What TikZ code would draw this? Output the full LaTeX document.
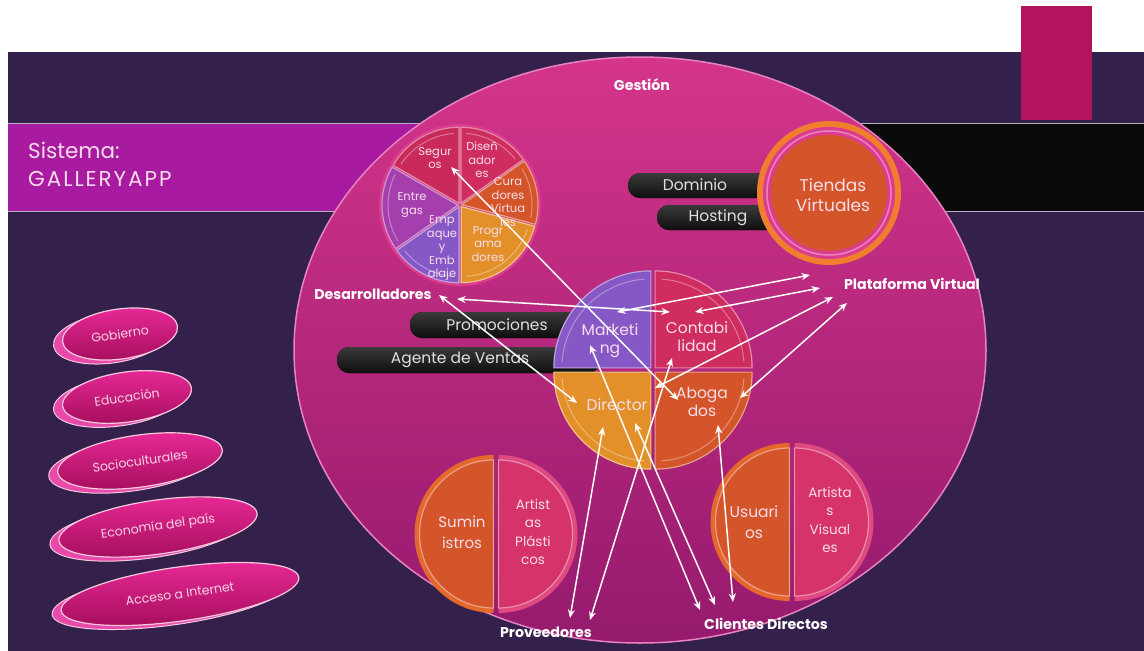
\documentclass[tikz,border=0pt]{standalone}
\usepackage{fontspec}
\setmainfont{Poppins}
\usetikzlibrary{arrows.meta,shapes.geometric}

\definecolor{bgdark}{HTML}{33204B}
\definecolor{bgmid}{HTML}{54295F}
\definecolor{bandpurple}{HTML}{A81BA0}
\definecolor{bandedge}{HTML}{B8AFC2}
\definecolor{tabmagenta}{HTML}{B3135F}
\definecolor{gesttop}{HTML}{D4358A}
\definecolor{gestbot}{HTML}{951A6E}
\definecolor{gestrim}{HTML}{E783BE}
\definecolor{txtlight}{HTML}{F7DDEB}
\definecolor{cCrimson}{HTML}{C92A5B}
\definecolor{cCrimsonB}{HTML}{CF2D5F}
\definecolor{cRedOrange}{HTML}{D4552A}
\definecolor{cGold}{HTML}{E3902A}
\definecolor{cViolet}{HTML}{8658C6}
\definecolor{cPlum}{HTML}{A53FAD}
\definecolor{cRose}{HTML}{D5336A}
\definecolor{ringorange}{HTML}{F07E2E}
\definecolor{ringpink}{HTML}{DB3C8E}
\definecolor{rimorange}{HTML}{E6672C}
\definecolor{rimrose}{HTML}{E04A80}
\definecolor{pilltop}{HTML}{3A3A3A}
\definecolor{pillbot}{HTML}{0E0E0E}
\definecolor{cDiscFront}{HTML}{A30D5B}
\definecolor{cDiscTop}{HTML}{EA2A98}
\definecolor{cDiscBack}{HTML}{E84AAA}
\definecolor{cDiscRim}{HTML}{F6C9DF}
\definecolor{cDiscText}{HTML}{F5D3E5}

\begin{document}
\begin{tikzpicture}[x=1pt,y=-1pt,
  link/.style={draw=white, line width=1.5pt, >={Stealth[length=8.5pt,width=7pt]}, <->},
  tag/.style={font=\bfseries\fontsize{14.2}{16}\selectfont, text=white, inner sep=0pt},
  pietext/.style={align=center, text=txtlight, inner sep=0pt, font=\fontsize{11.5}{13.5}\selectfont},
  bigtext/.style={align=center, text=txtlight, inner sep=0pt, font=\fontsize{15.5}{18}\selectfont},
  halftext/.style={align=center, text=txtlight, inner sep=0pt, font=\fontsize{13.5}{18.5}\selectfont},
  pilltext/.style={text=white!88!black, inner sep=0pt, font=\fontsize{15.5}{17}\selectfont},
  pill/.style={top color=pilltop, bottom color=pillbot, rounded corners=12pt},
  discrear/.style={ellipse, fill=cDiscBack, draw=cDiscRim, line width=1pt, inner sep=0pt},
  discface/.style={ellipse, top color=cDiscTop, bottom color=cDiscFront, draw=cDiscRim, line width=1.2pt, inner sep=0pt},
  disctext/.style={text=cDiscText, inner sep=0pt, font=\fontsize{12.5}{14}\selectfont},
  wedge/.style={fill=#1, draw=#1!55!white, line width=1.2pt},
  halfrim/.style={fill=#1}
]
\useasboundingbox (0,0) rectangle (1144,651);
\fill[white] (0,0) rectangle (1144,651);

% slide background
\shade[left color=bgdark, middle color=bgmid, right color=bgdark] (8,52) rectangle (1144,651);

% tab at the top right
\fill[tabmagenta] (1021,6) rectangle (1092,120);

% title band and black band
\fill[bandpurple] (8,123) rectangle (660,211);
\fill[black!96] (660,123) rectangle (1144,211);
\draw[bandedge, line width=0.8pt] (8,123) -- (1144,123) (8,211) -- (1144,211);
\node[anchor=west, align=left, text=txtlight, inner sep=0pt,
      font=\fontsize{21.5}{28}\selectfont] (titulo) at (28,164)
  {Sistema:\\{\addfontfeatures{LetterSpace=9}GALLERYAPP}};

% main management circle
\draw[top color=gesttop, bottom color=gestbot, draw=gestrim, line width=1.5pt]
  (640,350) ellipse [x radius=346, y radius=293];
\node[tag] (gestion) at (642,85) {Gestión};

% six-part wheel of developers
\begin{scope}[shift={(460,205)}, y=1pt]
  \fill[ringpink] (0,0) circle (81);
  \foreach \a/\b/\c in {90/150/cCrimson, 150/215/cPlum, 215/270/cViolet,
                        270/345/cGold, 345/395/cRedOrange, 35/90/cCrimsonB} {
    \filldraw[wedge=\c, shift={({(\a+\b)/2}:2)}]
      (0,0) -- (\a:76) arc[start angle=\a, end angle=\b, radius=76] -- cycle;
    \draw[white, opacity=0.35, line width=1pt, shift={({(\a+\b)/2}:2)}]
      (\a+4:70) arc[start angle=\a+4, end angle=\b-4, radius=70];
  }
\end{scope}
\node[pietext] (seguros) at (435,158) {Segur\\os};
\node[pietext] (disenadores) at (482,160) {Diseñ\\ador\\es};
\node[pietext] (curadores) at (508,202) {Cura\\dores\\Virtua\\les};
\node[pietext] (programadores) at (488,244) {Progr\\ama\\dores};
\node[pietext] (empaque) at (442,248) {Emp\\aque\\y\\Emb\\alaje};
\node[pietext] (entregas) at (412,205) {Entre\\gas};

% virtual stores with their services
\fill[pill] (628,173) rectangle (785,198);
\node[pilltext] (dominio) at (695,185) {Dominio};
\fill[pill] (657,205) rectangle (790,230);
\node[pilltext] (hosting) at (718,218) {Hosting};
\fill[ringorange] (829,193) circle (72);
\fill[ringpink] (829,193) circle (66);
\draw[gestrim, line width=1.5pt] (829,193) circle (62);
\fill[cRedOrange] (829,193) circle (58);
\node[align=center, text=txtlight, inner sep=0pt, font=\fontsize{17}{20}\selectfont]
  (tiendas) at (833,195) {Tiendas\\Virtuales};

% sales tags
\fill[pill] (410,312) rectangle (610,338);
\node[pilltext] (promociones) at (497,325) {Promociones};
\fill[pill] (337,347) rectangle (600,373);
\node[pilltext] (agente) at (460,360) {Agente de Ventas};

% four-part management wheel
\begin{scope}[shift={(653,370)}, y=1pt]
  \foreach \a/\b/\c in {90/180/cViolet, 0/90/cCrimsonB, 180/270/cGold, 270/360/cRedOrange} {
    \filldraw[wedge=\c, shift={({(\a+\b)/2}:3)}]
      (0,0) -- (\a:97) arc[start angle=\a, end angle=\b, radius=97] -- cycle;
    \draw[white, opacity=0.35, line width=1pt, shift={({(\a+\b)/2}:3)}]
      (\a+4:89) arc[start angle=\a+4, end angle=\b-4, radius=89];
  }
\end{scope}
\node[bigtext] (marketing) at (610,341) {Marketi\\ng};
\node[bigtext] (contabilidad) at (697,337) {Contabi\\lidad};
\node[bigtext] (director) at (617,405) {Director};
\node[bigtext] (abogados) at (702,402) {Aboga\\dos};

% suppliers wheel
\begin{scope}[shift={(496,534)}, y=1pt]
  \fill[halfrim=rimorange, shift={(-2.5,0)}] (90:79) arc[start angle=90, end angle=270, radius=79] -- cycle;
  \fill[halfrim=rimrose, shift={(2.5,0)}] (-90:79) arc[start angle=-90, end angle=90, radius=79] -- cycle;
  \filldraw[wedge=cRedOrange, shift={(-2.5,0)}] (90:74) arc[start angle=90, end angle=270, radius=74] -- cycle;
  \filldraw[wedge=cRose, shift={(2.5,0)}] (-90:74) arc[start angle=-90, end angle=90, radius=74] -- cycle;
\end{scope}
\node[align=center, text=txtlight, inner sep=0pt, font=\fontsize{15}{21}\selectfont]
  (suministros) at (462,532) {Sumin\\istros};
\node[halftext] (plasticos) at (533,532) {Artist\\as\\Plásti\\cos};

% direct clients wheel
\begin{scope}[shift={(792,522)}, y=1pt]
  \fill[halfrim=rimorange, shift={(-2.5,0)}] (90:79) arc[start angle=90, end angle=270, radius=79] -- cycle;
  \fill[halfrim=rimrose, shift={(2.5,0)}] (-90:79) arc[start angle=-90, end angle=90, radius=79] -- cycle;
  \filldraw[wedge=cRedOrange, shift={(-2.5,0)}] (90:74) arc[start angle=90, end angle=270, radius=74] -- cycle;
  \filldraw[wedge=cRose, shift={(2.5,0)}] (-90:74) arc[start angle=-90, end angle=90, radius=74] -- cycle;
\end{scope}
\node[align=center, text=txtlight, inner sep=0pt, font=\fontsize{15.5}{21}\selectfont]
  (usuarios) at (754,522) {Usuari\\os};
\node[halftext] (visuales) at (830,520) {Artista\\s\\Visual\\es};

% environment discs
\foreach \n/\x/\y/\w/\h/\t in {gobierno/120/334/116/50/Gobierno,
    educacion/127/397/130/50/Educación,
    sociocult/140/461/166/52/Socioculturales,
    economia/158/527/200/54/Economía del país,
    acceso/180/594/240/54/Acceso a Internet} {
  \node[discrear, minimum width=\w pt, minimum height=\h pt, rotate=8] at (\x-9,\y+4) {};
  \node[discface, minimum width=\w pt, minimum height=\h pt, rotate=8] (\n) at (\x,\y) {};
  \node[disctext, rotate=8] at (\n.center) {\t};
}

% outside actors
\node[tag] (desarrolladores) at (373,294) {Desarrolladores};
\node[tag] (plataforma) at (912,284) {Plataforma Virtual};
\node[tag] (proveedores) at (546,632) {Proveedores};
\node[tag] (clientes) at (766,624) {Clientes Directos};

% arrow end points
\coordinate (dev-e)  at (457,299);
\coordinate (dev-se) at (439,295);
\coordinate (cont-w) at (670,312);
\coordinate (cont-n) at (695,312);
\coordinate (cont-s) at (672,358);
\coordinate (mkt-n)  at (617,312);
\coordinate (mkt-c)  at (590,345);
\coordinate (dir-w)  at (577,403);
\coordinate (dir-s)  at (603,427);
\coordinate (dir-se) at (635,423);
\coordinate (abo-nw) at (655,388);
\coordinate (abo-w)  at (678,400);
\coordinate (abo-e)  at (740,398);
\coordinate (abo-s)  at (718,425);
\coordinate (seg-c)  at (451,167);
\coordinate (tv-s)   at (810,275);
\coordinate (pv-1)   at (820,288);
\coordinate (pv-2)   at (833,297);
\coordinate (pv-3)   at (847,303);
\coordinate (prov-1) at (570,618);
\coordinate (prov-2) at (590,620);
\coordinate (cli-1)  at (700,610);
\coordinate (cli-2)  at (715,605);
\coordinate (cli-3)  at (733,602);

% relations
\draw[link] (dev-e) -- (cont-w);
\draw[link] (mkt-n) -- (tv-s);
\draw[link] (cont-n) -- (pv-1);
\draw[link] (abo-nw) -- (pv-2);
\draw[link] (abo-e) -- (pv-3);
\draw[link] (seg-c) -- (abo-w);
\draw[link] (dev-se) -- (dir-w);
\draw[link] (mkt-c) -- (cli-1);
\draw[link] (dir-se) -- (cli-2);
\draw[link] (abo-s) -- (cli-3);
\draw[link] (dir-s) -- (prov-1);
\draw[link] (cont-s) -- (prov-2);
\end{tikzpicture}
\end{document}
